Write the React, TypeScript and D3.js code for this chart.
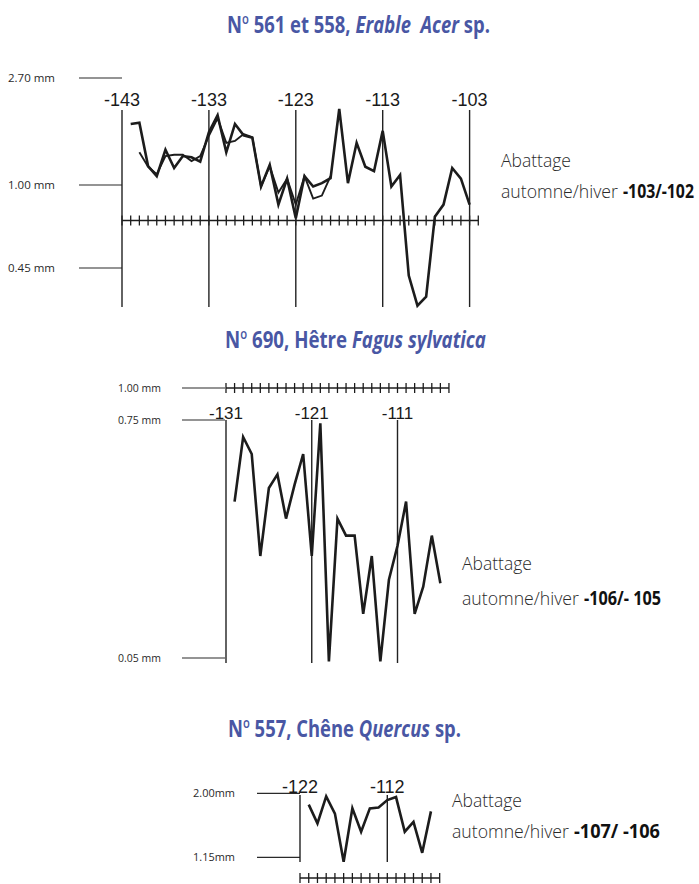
import React, { useRef, useEffect } from "react";
import * as d3 from "d3";

// ring widths (mm), one value per year starting at the given year
const erable561Start = -142;
const erable561 = [
  1.97, 1.99, 1.30, 1.14, 1.56, 1.27, 1.46, 1.44, 1.37, 1.84,
  2.11, 1.52, 1.97, 1.79, 1.75, 0.99, 1.32, 0.87, 1.10, 0.78,
  1.14, 0.99, 1.03, 1.11, 2.21, 1.03, 1.67, 1.29, 1.22, 1.86,
  0.99, 1.16, 0.40, 0.20, 0.26, 0.79, 0.87, 1.27, 1.10, 0.87,
];
const erable558Start = -141;
const erable558 = [
  1.52, 1.29, 1.17, 1.46, 1.48, 1.48, 1.38, 1.46, 1.78, 2.06,
  1.67, 1.70, 1.81, 1.76, 0.99, 1.30, 0.95, 1.10, 0.87, 1.14,
  0.91, 0.93, 1.14,
];
const erableMarks = [-143, -133, -123, -113, -103];
const erableMm = [2.7, 1.0, 0.45];
const erableMmLabels = ["2.70 mm", "1.00 mm", "0.45 mm"];

const hetre690Start = -130;
const hetre690 = [
  0.51, 0.70, 0.65, 0.35, 0.55, 0.59, 0.46, 0.56, 0.65, 0.35,
  0.74, 0.04, 0.46, 0.41, 0.41, 0.18, 0.35, 0.04, 0.28, 0.38,
  0.51, 0.18, 0.26, 0.41, 0.27,
];
const hetreMarks = [-131, -121, -111];
const hetreMm = [1.0, 0.75, 0.05];
const hetreMmLabels = ["1.00 mm", "0.75 mm", "0.05 mm"];

const chene557Start = -121;
const chene557 = [
  1.85, 1.60, 1.96, 1.73, 1.09, 1.80, 1.49, 1.80, 1.81, 1.91,
  1.95, 1.49, 1.62, 1.21, 1.76,
];
const cheneMarks = [-122, -112];
const cheneMm = [2.0, 1.15];
const cheneMmLabels = ["2.00mm", "1.15mm"];

const BLUE = "#4957a4";
const INK = "#1c1c1c";
const SANS = "'Open Sans', 'Noto Sans', sans-serif";

type Part = [string, string?];

// the original uses a condensed face: draw text normally, then squeeze it to the measured width
function squeezed(svg, x, y, len, text, o) {
  const g = svg.append("g");
  const t = g.append("text")
    .attr("x", 0).attr("y", 0)
    .attr("font-family", SANS)
    .attr("font-weight", o.weight)
    .attr("font-size", o.size)
    .attr("fill", o.fill)
    .style("white-space", "pre")
    .text(text);
  const w = (t.node() as SVGTextElement).getComputedTextLength();
  g.attr("transform", `translate(${x},${y}) scale(${len / w},1)`);
}

// title pieces laid side by side, then squeezed the same way
function title(svg, parts: Part[], x, y, len) {
  const g = svg.append("g");
  let cx = 0;
  parts.forEach(([s, kind]) => {
    const t = g.append("text")
      .attr("x", cx)
      .attr("y", kind === "sup" ? -9 : 0)
      .attr("font-family", SANS)
      .attr("font-weight", kind === "sup" ? 600 : 700)
      .attr("font-size", kind === "sup" ? 14 : 23)
      .attr("fill", BLUE)
      .style("white-space", "pre")
      .text(s);
    if (kind === "i") t.attr("font-style", "italic");
    cx += (t.node() as SVGTextElement).getComputedTextLength();
  });
  g.attr("transform", `translate(${x},${y}) scale(${len / cx},1)`);
}

function annotation(svg, x, y1, y2, bold, boldX, boldLen) {
  const light = { weight: 300, size: 19, fill: "#2a2a2a" };
  squeezed(svg, x, y1, 70, "Abattage", light);
  squeezed(svg, x, y2, 117, "automne/hiver", light);
  squeezed(svg, boldX, y2, boldLen, bold, { weight: 700, size: 19, fill: "#111" });
}

function panel(svg, p) {
  const x = d3.scaleLinear().domain([p.marks[0], p.marks[1]]).range(p.markX);
  const y = d3.scaleLinear().domain(p.mm).range(p.mmY);
  const g = svg.append("g");

  // mm reference marks on the left
  p.mm.forEach((v, i) => {
    g.append("line")
      .attr("x1", p.refX[0]).attr("x2", p.refX[1])
      .attr("y1", y(v)).attr("y2", y(v))
      .attr("stroke", "#2a2a2a").attr("stroke-width", 1.2);
    squeezed(g, p.labelX, y(v) + 4, p.labelLen, p.mmLabels[i],
      { weight: 400, size: 11.5, fill: "#2a2a2a" });
  });

  // year ruler
  const years = d3.range(p.ruler[0], p.ruler[1] + 1);
  g.append("line")
    .attr("x1", x(p.ruler[0])).attr("x2", x(p.ruler[1]))
    .attr("y1", p.rulerY).attr("y2", p.rulerY)
    .attr("stroke", INK).attr("stroke-width", 1.5);
  g.selectAll(".tick").data(years).enter().append("line")
    .attr("x1", d => x(d)).attr("x2", d => x(d))
    .attr("y1", p.rulerY - 5).attr("y2", p.rulerY + 5)
    .attr("stroke", INK).attr("stroke-width", 1.3);

  // decade lines and labels
  p.marks.forEach(m => {
    g.append("line")
      .attr("x1", x(m)).attr("x2", x(m))
      .attr("y1", p.vTop).attr("y2", p.vBottom)
      .attr("stroke", "#222").attr("stroke-width", 1.4);
    g.append("text")
      .attr("x", x(m)).attr("y", p.yearY)
      .attr("text-anchor", "middle")
      .attr("font-family", "'Liberation Sans', Arial, sans-serif")
      .attr("font-size", p.yearSize)
      .attr("fill", "#1a1a1a")
      .text(String(m));
  });

  // ring-width curves
  const line = d3.line<number[]>().x(d => x(d[0])).y(d => y(d[1]));
  p.series.forEach(s => {
    const pts = s.values.map((v, i) => [s.start + i, v]);
    g.append("path")
      .attr("d", line(pts))
      .attr("fill", "none")
      .attr("stroke", INK)
      .attr("stroke-width", s.width)
      .attr("stroke-linejoin", "miter");
  });
}

export default function App() {
  const ref = useRef<SVGSVGElement>(null);

  useEffect(() => {
    const svg = d3.select(ref.current);
    svg.selectAll("*").remove();

    // Erable
    title(svg, [["N"], ["o", "sup"], [" 561 et 558, "], ["Erable  Acer", "i"], [" sp."]], 227, 33, 263);
    panel(svg, {
      marks: erableMarks, markX: [122, 208.9],
      mm: erableMm, mmY: [78, 185, 268], mmLabels: erableMmLabels,
      refX: [79, 122], labelX: 8, labelLen: 47,
      ruler: [-143, -102], rulerY: 220.5,
      vTop: 110, vBottom: 307, yearY: 106, yearSize: 18,
      series: [
        { start: erable558Start, values: erable558, width: 1.9 },
        { start: erable561Start, values: erable561, width: 2.6 },
      ],
    });
    annotation(svg, 501, 167, 198, "-103/-102", 623, 71);

    // Hêtre
    title(svg, [["N"], ["o", "sup"], [" 690, Hêtre "], ["Fagus sylvatica", "i"]], 225, 348, 261);
    panel(svg, {
      marks: hetreMarks, markX: [226, 311.75],
      mm: hetreMm, mmY: [388, 420, 658], mmLabels: hetreMmLabels,
      refX: [182, 225], labelX: 118, labelLen: 43,
      ruler: [-131, -105], rulerY: 388,
      vTop: 420, vBottom: 663, yearY: 419, yearSize: 17,
      series: [{ start: hetre690Start, values: hetre690, width: 2.6 }],
    });
    annotation(svg, 462, 570, 605, "-106/- 105", 584, 77);

    // Chêne
    title(svg, [["N"], ["o", "sup"], [" 557, Chêne "], ["Quercus", "i"], [" sp."]], 228, 737, 233);
    panel(svg, {
      marks: cheneMarks, markX: [300, 387.3],
      mm: cheneMm, mmY: [793.3, 857.3], mmLabels: cheneMmLabels,
      refX: [257, 300], labelX: 193, labelLen: 42,
      ruler: [-122, -106], rulerY: 878,
      vTop: 795, vBottom: 862, yearY: 793, yearSize: 18,
      series: [{ start: chene557Start, values: chene557, width: 2.6 }],
    });
    annotation(svg, 452, 807, 838, "-107/ -106", 574, 86);
  }, []);

  return (
    <svg
      ref={ref}
      width={699}
      height={884}
      style={{ position: "absolute", left: 0, top: 0, background: "#fff" }}
    />
  );
}
